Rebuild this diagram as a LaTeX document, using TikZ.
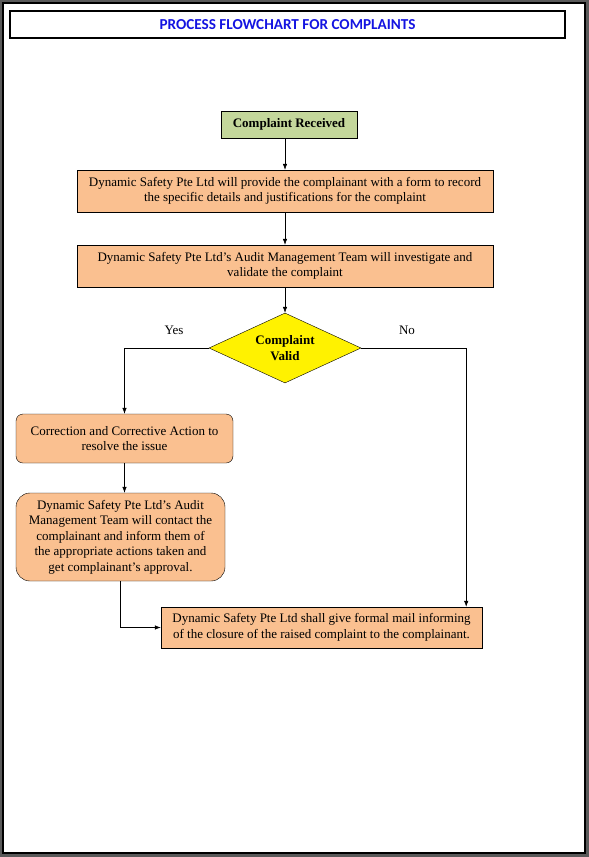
\documentclass[tikz,border=0pt]{standalone}
\usepackage{fontspec}
\setmainfont{Liberation Serif}
\newfontfamily\titlefont{Carlito}
\usetikzlibrary{shapes,shapes.geometric,arrows.meta,positioning,calc}
\definecolor{recvgreen}{RGB}{196,215,155}
\definecolor{peach}{RGB}{250,192,144}
\definecolor{titleblue}{RGB}{20,20,225}
\definecolor{pagegray}{RGB}{90,90,90}

\begin{document}
\begin{tikzpicture}[
    x=1pt, y=-1pt,
    every node/.style={font=\fontsize{13}{15.5}\selectfont},
    titlebox/.style={rectangle, draw, line width=1.6pt, fill=white, minimum width=555pt, minimum height=27pt, inner sep=0pt, font=\titlefont\bfseries\fontsize{15.2}{17}\selectfont, text=titleblue},
    stepbox/.style={rectangle, draw, fill=peach, align=center, inner sep=0pt},
    roundbox/.style={stepbox, rounded corners=7pt},
    decision/.style={diamond, draw, fill=yellow, aspect=2.17, inner sep=0pt, minimum width=152pt, minimum height=70pt, align=center, font=\bfseries\fontsize{13}{15.5}\selectfont},
    flow/.style={-{Latex[length=6pt,width=4.5pt]}, line width=0.6pt}
]

% Page frame
\fill[pagegray] (0,0) rectangle (589,857);
\draw[line width=2pt, fill=white] (3,3) rectangle (585,853);

% Title
\node[titlebox] (title) at (287.5,24.5) {PROCESS FLOWCHART FOR COMPLAINTS};

% Main column
\node[rectangle, draw, fill=recvgreen, minimum width=136pt, minimum height=27pt, inner sep=0pt, font=\bfseries\fontsize{13}{15.5}\selectfont] (recv) at (289,124.5) {Complaint Received};
\node[stepbox, minimum width=416pt, minimum height=42pt] (form) at (285,191) {Dynamic Safety Pte Ltd will provide the complainant with a form to record\\the specific details and justifications for the complaint};
\node[stepbox, minimum width=416pt, minimum height=42pt] (audit) at (285,266) {Dynamic Safety Pte Ltd’s Audit Management Team will investigate and\\validate the complaint};
\node[decision] (valid) at (285,348) {Complaint\\Valid};

% Yes branch
\node (yes) at (174,330) {Yes};
\node[roundbox, minimum width=217pt, minimum height=49pt] (fix) at (124.5,438.5) {Correction and Corrective Action to\\resolve the issue};
\node[roundbox, rounded corners=14pt, minimum width=209pt, minimum height=88pt] (contact) at (120.5,537) {Dynamic Safety Pte Ltd’s Audit\\Management Team will contact the\\complainant and inform them of\\the appropriate actions taken and\\get complainant’s approval.};

% No branch
\node (no) at (407,330) {No};
\node[stepbox, minimum width=321pt, minimum height=41pt] (close) at (321.5,627.5) {Dynamic Safety Pte Ltd shall give formal mail informing\\of the closure of the raised complaint to the complainant.};

% Connectors
\draw[flow] (recv.south -| form.north) -- (form.north);
\draw[flow] (form) -- (audit);
\draw[flow] (audit) -- (valid);
\draw[flow] (valid.west) -| (fix.north);
\draw[flow] (fix.south) -- (fix.south |- contact.north);
\draw[flow] (contact.south) |- (close.west);
\draw[flow] (valid.east) -| ([xshift=-16pt]close.north east);

\end{tikzpicture}
\end{document}
